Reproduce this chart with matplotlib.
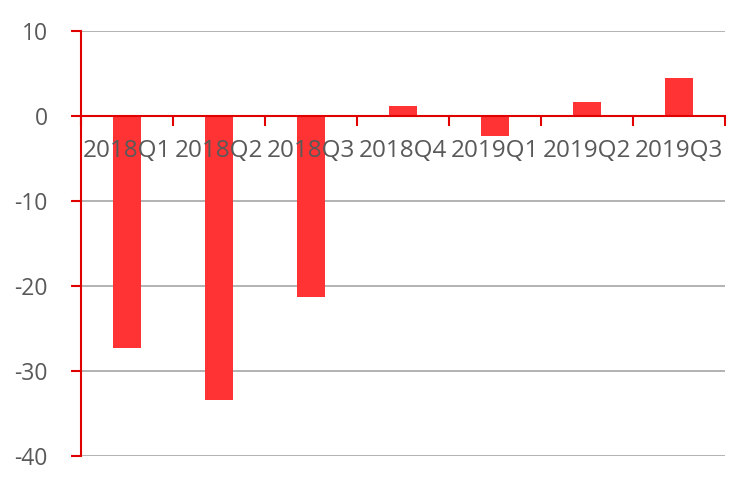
import numpy as np
import matplotlib.pyplot as plt
from matplotlib.ticker import FixedLocator

quarters = ['2018Q1', '2018Q2', '2018Q3', '2018Q4', '2019Q1', '2019Q2', '2019Q3']
values = [-27.3, -33.4, -21.3, 1.2, -2.4, 1.6, 4.4]
yticks = [10, 0, -10, -20, -30, -40]

red = '#FF3333'
axis_red = '#E00000'
grey_text = '#595959'

plt.rcParams['font.family'] = ['Open Sans', 'DejaVu Sans']

fig = plt.figure(figsize=(7.43, 4.82), dpi=100)
ax = fig.add_axes([0.109, 0.054, 0.867, 0.882])

x = np.arange(len(quarters))
ax.bar(x, values, width=0.31, color=red, zorder=3)

ax.set_xlim(-0.5, len(quarters) - 0.5)
ax.set_ylim(-40, 10)
ax.set_yticks(yticks)
ax.set_yticklabels([str(v) for v in yticks])
ax.tick_params(axis='y', length=7, width=1.5, color=axis_red, pad=17,
               labelsize=16.5, labelcolor=grey_text)
ax.yaxis.grid(True, color='#A6A6A6', linewidth=1.2, zorder=0)

# category labels sit on top of the bars, just under the zero line
ax.set_xticks([])
ax.xaxis.set_minor_locator(FixedLocator(np.arange(-0.5, len(quarters), 1.0)))
ax.tick_params(axis='x', which='minor', length=7, width=1.5, color=axis_red, direction='out')
for xi, q in zip(x, quarters):
    ax.annotate(q, (xi, 0), xytext=(0, -16.5), textcoords='offset points',
                ha='center', va='top', fontsize=17.5, color=grey_text, zorder=6)

for side in ['top', 'right']:
    ax.spines[side].set_visible(False)
ax.spines['bottom'].set_position(('data', 0))
ax.spines['bottom'].set_color(axis_red)
ax.spines['bottom'].set_linewidth(1.5)
ax.spines['bottom'].set_zorder(4)
ax.spines['left'].set_color(axis_red)
ax.spines['left'].set_linewidth(1.5)

fig.savefig('out.png', dpi=100)
